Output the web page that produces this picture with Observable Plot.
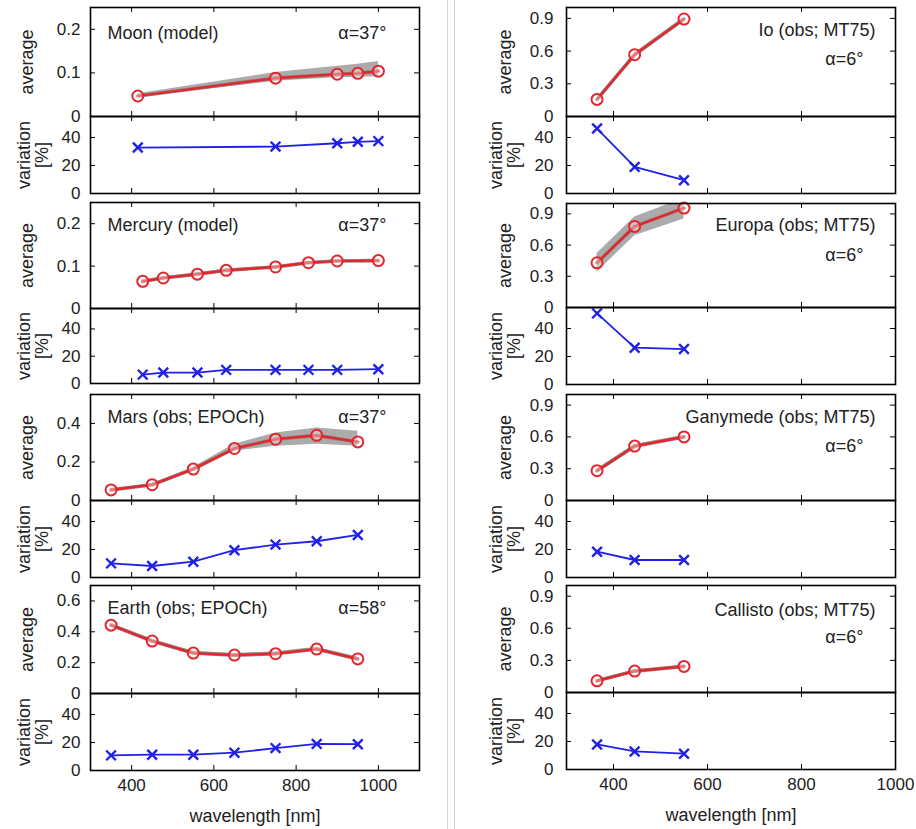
<!DOCTYPE html>
<html>
<head>
<meta charset="utf-8">
<script src="https://cdn.jsdelivr.net/npm/d3@7"></script>
<script src="https://cdn.jsdelivr.net/npm/@observablehq/plot@0.6"></script>
<style>
  html, body { margin: 0; padding: 0; background: #fff; }
  #wrap { position: relative; width: 916px; height: 829px; overflow: hidden; font-family: "Liberation Sans", Arial, sans-serif; }
  #wrap svg { position: absolute; overflow: visible; }
  .sep { position: absolute; top: 0; width: 1px; height: 829px; background: #d4d4d4; }
</style>
</head>
<body>
<div id="wrap"></div>
<script>
// ---------------- data ----------------
const wlMoon = [415, 750, 900, 950, 1000];
const avgMoon = [0.047, 0.088, 0.097, 0.099, 0.104];
const loMoon = [0.044, 0.081, 0.089, 0.090, 0.091];
const hiMoon = [0.052, 0.101, 0.115, 0.120, 0.126];
const varMoon = [32.8, 33.5, 35.9, 36.9, 37.4];

const wlMercury = [427, 477, 560, 630, 750, 830, 900, 1000];
const avgMercury = [0.064, 0.072, 0.081, 0.090, 0.098, 0.108, 0.112, 0.113];
const loMercury = [0.061, 0.069, 0.078, 0.087, 0.095, 0.105, 0.109, 0.110];
const hiMercury = [0.067, 0.075, 0.084, 0.093, 0.101, 0.111, 0.115, 0.116];
const varMercury = [6.5, 8.0, 8.0, 10.0, 10.0, 10.0, 10.0, 10.5];

const wlMars = [350, 450, 550, 650, 750, 850, 950];
const avgMars = [0.055, 0.082, 0.163, 0.270, 0.318, 0.338, 0.304];
const loMars = [0.050, 0.077, 0.155, 0.256, 0.282, 0.292, 0.282];
const hiMars = [0.060, 0.087, 0.172, 0.292, 0.350, 0.376, 0.359];
const varMars = [10.1, 8.2, 11.3, 19.5, 23.5, 25.9, 30.4];

const wlEarth = [350, 450, 550, 650, 750, 850, 950];
const avgEarth = [0.443, 0.340, 0.262, 0.249, 0.258, 0.288, 0.224];
const loEarth = [0.431, 0.328, 0.250, 0.238, 0.247, 0.276, 0.212];
const hiEarth = [0.455, 0.352, 0.274, 0.260, 0.270, 0.300, 0.236];
const varEarth = [10.8, 11.3, 11.3, 12.7, 16.0, 19.0, 18.8];

const wlGalilean = [365, 445, 550];
const avgIo = [0.157, 0.567, 0.894];
const loIo = [0.145, 0.552, 0.878];
const hiIo = [0.170, 0.582, 0.910];
const varIo = [46.4, 19.0, 9.5];

const avgEuropa = [0.430, 0.780, 0.956];
const loEuropa = [0.340, 0.690, 0.850];
const hiEuropa = [0.520, 0.870, 1.050];
const varEuropa = [50.8, 26.3, 25.3];

const avgGanymede = [0.281, 0.513, 0.600];
const loGanymede = [0.266, 0.497, 0.585];
const hiGanymede = [0.296, 0.528, 0.615];
const varGanymede = [18.4, 12.5, 12.5];

const avgCallisto = [0.109, 0.200, 0.244];
const loCallisto = [0.099, 0.190, 0.234];
const hiCallisto = [0.119, 0.210, 0.254];
const varCallisto = [17.9, 12.9, 11.3];

const names = ["Moon (model)", "Mercury (model)", "Mars (obs; EPOCh)", "Earth (obs; EPOCh)",
               "Io (obs; MT75)", "Europa (obs; MT75)", "Ganymede (obs; MT75)", "Callisto (obs; MT75)"];
const phaseLabels = ["α=37°", "α=37°", "α=37°", "α=58°", "α=6°", "α=6°", "α=6°", "α=6°"];
const xTicks = [400, 600, 800, 1000];
const avgTicksLow = [0, 0.1, 0.2];
const avgTicksMars = [0, 0.2, 0.4];
const avgTicksEarth = [0, 0.2, 0.4, 0.6];
const avgTicksRight = [0, 0.3, 0.6, 0.9];
const varTicks = [0, 20, 40];
const xTitle = "wavelength [nm]";

// ---------------- layout / style ----------------
const RED = "#e3262b", BLUE = "#2020e6", BAND = "#ababab", INK = "#222";
const FONT = "'Liberation Sans', Arial, Helvetica, sans-serif";
const FW = 329;
const colLeft = {x: 90, domain: [300, 1100], tickPad: 10, avgDx: -63, varDx: -57, nameAnchor: "start", nameDx: 17, alphaDx: -33, alphaDy: null};
const colRight = {x: 566, domain: [300, 1000], tickPad: 13, avgDx: -61, varDx: -61, nameAnchor: "end", nameDx: -20, alphaDx: -32, alphaDy: 52};

const panels = [
  {col: colLeft, top: 7, mid: 116, bot: 193, wl: wlMoon, avg: avgMoon, lo: loMoon, hi: hiMoon, vr: varMoon, yMax: 0.25, yt: avgTicksLow, nameDy: 26},
  {col: colLeft, top: 202, mid: 308, bot: 383, wl: wlMercury, avg: avgMercury, lo: loMercury, hi: hiMercury, vr: varMercury, yMax: 0.25, yt: avgTicksLow, nameDy: 23},
  {col: colLeft, top: 394, mid: 500, bot: 577, wl: wlMars, avg: avgMars, lo: loMars, hi: hiMars, vr: varMars, yMax: 0.55, yt: avgTicksMars, nameDy: 23},
  {col: colLeft, top: 585, mid: 693, bot: 770, wl: wlEarth, avg: avgEarth, lo: loEarth, hi: hiEarth, vr: varEarth, yMax: 0.70, yt: avgTicksEarth, nameDy: 23, last: true},
  {col: colRight, top: 7, mid: 116, bot: 193, wl: wlGalilean, avg: avgIo, lo: loIo, hi: hiIo, vr: varIo, yMax: 1.0, yt: avgTicksRight, nameDy: 23},
  {col: colRight, top: 203, mid: 307, bot: 384, wl: wlGalilean, avg: avgEuropa, lo: loEuropa, hi: hiEuropa, vr: varEuropa, yMax: 1.0, yt: avgTicksRight, nameDy: 22},
  {col: colRight, top: 394, mid: 500, bot: 577, wl: wlGalilean, avg: avgGanymede, lo: loGanymede, hi: hiGanymede, vr: varGanymede, yMax: 1.0, yt: avgTicksRight, nameDy: 23},
  {col: colRight, top: 585, mid: 692, bot: 769, wl: wlGalilean, avg: avgCallisto, lo: loCallisto, hi: hiCallisto, vr: varCallisto, yMax: 1.0, yt: avgTicksRight, nameDy: 25, last: true}
];

const wrap = document.getElementById("wrap");
const ML = 80, MR = 12, MT = 12;
const TICK = 5;

function innerTicks(h, yt) {
  const yIn = yt.filter(d => d !== 0);
  return [
    Plot.ruleX(xTicks, {x: d => d, insetBottom: h - TICK, stroke: "black", strokeWidth: 1}),
    Plot.ruleX(xTicks, {x: d => d, insetTop: h - TICK, stroke: "black", strokeWidth: 1}),
    Plot.ruleY(yIn, {y: d => d, insetRight: FW - TICK, stroke: "black", strokeWidth: 1}),
    Plot.ruleY(yIn, {y: d => d, insetLeft: FW - TICK, stroke: "black", strokeWidth: 1})
  ];
}

function place(svg, left, top) {
  svg.style.left = left + "px";
  svg.style.top = top + "px";
  wrap.appendChild(svg);
}

panels.forEach((p, i) => {
  const c = p.col;
  const rows = p.wl.map((w, k) => ({wl: w, avg: p.avg[k], lo: p.lo[k], hi: p.hi[k], v: p.vr[k]}));
  const hA = p.mid - p.top;
  const hV = p.bot - p.mid;
  const style = {fontFamily: FONT, fontSize: "17px", color: INK, background: "transparent", overflow: "visible"};

  // ---- average panel ----
  const avgPlot = Plot.plot({
    width: ML + FW + MR, height: MT + hA + MT,
    marginLeft: ML, marginRight: MR, marginTop: MT, marginBottom: MT,
    x: {domain: c.domain, axis: null},
    y: {domain: [0, p.yMax]},
    style,
    marks: [
      Plot.areaY(rows, {x: "wl", y1: "lo", y2: "hi", fill: BAND, clip: true}),
      Plot.line(rows, {x: "wl", y: "avg", stroke: "#9a7a7a", strokeWidth: 3.6}),
      Plot.line(rows, {x: "wl", y: "avg", stroke: RED, strokeWidth: 2.2}),
      Plot.dot(rows, {x: "wl", y: "avg", r: 5.5, stroke: RED, strokeWidth: 2, fill: "white", fillOpacity: 0.35}),
      ...innerTicks(hA, p.yt),
      Plot.frame({stroke: "black", strokeWidth: 1.6}),
      Plot.axisY({ticks: p.yt, tickSize: 0, tickPadding: c.tickPad, tickFormat: d => String(d), label: null}),
      Plot.text(["average"], {frameAnchor: "left", dx: c.avgDx, rotate: -90, textAnchor: "middle", lineAnchor: "middle", fontSize: 18, fill: INK}),
      Plot.text([names[i]], {frameAnchor: c.nameAnchor === "start" ? "top-left" : "top-right", textAnchor: c.nameAnchor, lineAnchor: "middle", dx: c.nameDx, dy: p.nameDy, fontSize: 18, fill: INK}),
      Plot.text([phaseLabels[i]], {frameAnchor: "top-right", textAnchor: "end", lineAnchor: "middle", dx: c.alphaDx, dy: c.alphaDy ?? p.nameDy, fontSize: 18, fill: INK})
    ]
  });
  place(avgPlot, c.x - ML, p.top - MT);

  // ---- variation panel ----
  const MB = p.last ? 60 : MT;
  const varMarks = [
    Plot.line(rows, {x: "wl", y: "v", stroke: BLUE, strokeWidth: 1.8}),
    Plot.dot(rows, {x: "wl", y: "v", symbol: "times", r: 4.5, stroke: BLUE, strokeWidth: 2.4}),
    ...innerTicks(hV, varTicks),
    Plot.frame({stroke: "black", strokeWidth: 1.6}),
    Plot.axisY({ticks: varTicks, tickSize: 0, tickPadding: c.tickPad, tickFormat: d => String(d), label: null}),
    Plot.text(["variation\n[%]"], {frameAnchor: "left", dx: c.varDx, rotate: -90, textAnchor: "middle", lineAnchor: "middle", lineHeight: 1.0, fontSize: 18, fill: INK})
  ];
  if (p.last) {
    varMarks.push(Plot.axisX({ticks: xTicks, tickSize: 0, tickPadding: 8, tickFormat: d => String(d), label: null}));
    varMarks.push(Plot.text([xTitle], {frameAnchor: "bottom", textAnchor: "middle", lineAnchor: "middle", dy: 46, fontSize: 18, fill: INK}));
  }
  const varPlot = Plot.plot({
    width: ML + FW + MR, height: MT + hV + MB,
    marginLeft: ML, marginRight: MR, marginTop: MT, marginBottom: MB,
    x: p.last ? {domain: c.domain} : {domain: c.domain, axis: null},
    y: {domain: [0, 55]},
    style,
    marks: varMarks
  });
  place(varPlot, c.x - ML, p.mid - MT);
});

// column separator
[447, 454].forEach(x => {
  const d = document.createElement("div");
  d.className = "sep";
  d.style.left = x + "px";
  wrap.appendChild(d);
});
</script>
</body>
</html>
